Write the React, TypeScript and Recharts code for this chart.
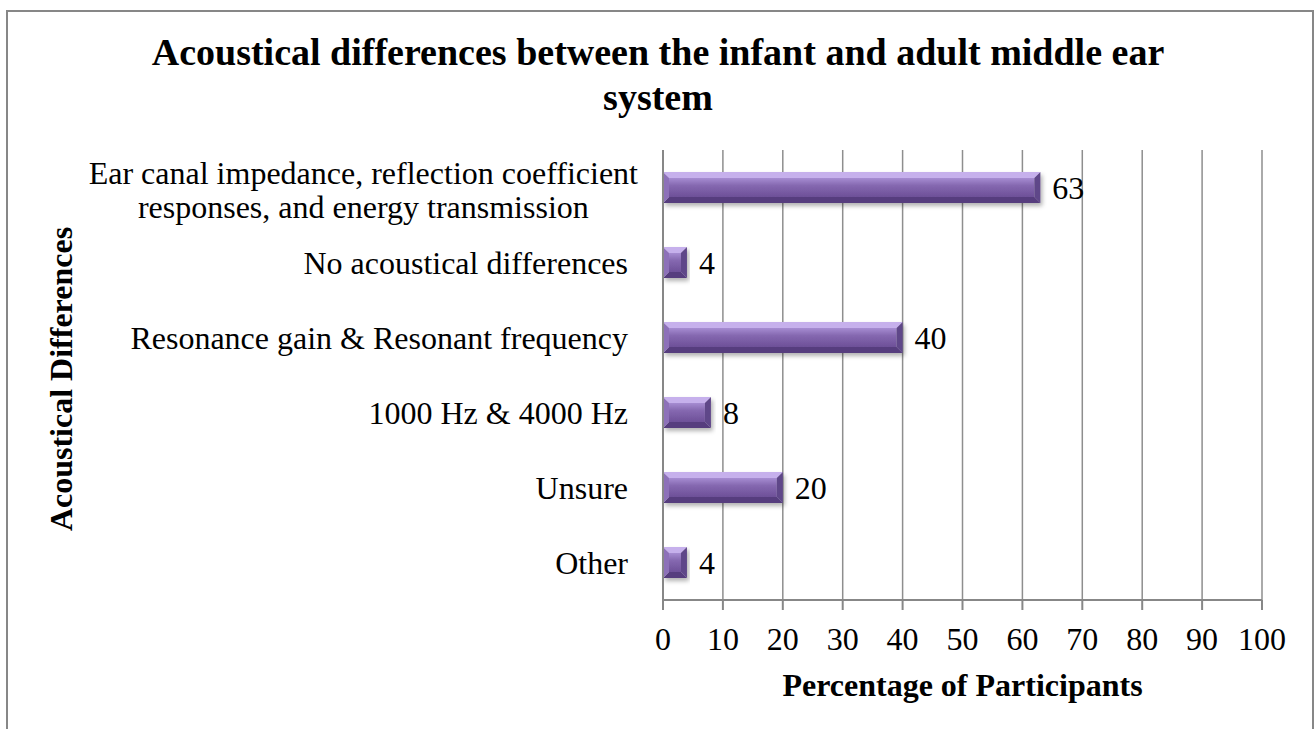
import React from "react"
import { Bar, BarChart, CartesianGrid, LabelList, XAxis, YAxis } from "recharts"

const FONT = '"Liberation Serif", "Times New Roman", serif'

const categories = [
  "Ear canal impedance, reflection coefficient\nresponses, and energy transmission",
  "No acoustical differences",
  "Resonance gain & Resonant frequency",
  "1000 Hz & 4000 Hz",
  "Unsure",
  "Other",
]
const percentages = [63, 4, 40, 8, 20, 4]
const xTicks = [0, 10, 20, 30, 40, 50, 60, 70, 80, 90, 100]

const data = categories.map((name, i) => ({ name, value: percentages[i] }))

let ctx: CanvasRenderingContext2D | null = null
function textWidth(s: string) {
  if (!ctx) ctx = document.createElement("canvas").getContext("2d")
  if (!ctx) return s.length * 14
  ctx.font = `32px ${FONT}`
  return ctx.measureText(s).width
}

function CategoryTick({ x, y, payload }: any) {
  const lines = String(payload.value).split("\n")
  if (lines.length === 1) {
    return (
      <text x={x} y={y} dy={11} textAnchor="end" fontSize={32} fontFamily={FONT} fill="#000">
        {lines[0]}
      </text>
    )
  }
  // wrapped label: lines centred on each other, block pushed a little right
  const w = Math.max(...lines.map(textWidth))
  const cx = x + 10 - w / 2
  const lh = 34
  const first = -((lines.length - 1) * lh) / 2 + 13
  return (
    <text x={cx} y={y} textAnchor="middle" fontSize={32} fontFamily={FONT} fill="#000">
      {lines.map((l, i) => (
        <tspan key={i} x={cx} dy={i === 0 ? first : lh}>
          {l}
        </tspan>
      ))}
    </text>
  )
}

function BevelBar({ x, y, width, height }: any) {
  if (!width || width <= 0) return null
  const b = Math.min(6, width / 2, height / 2)
  const r = x + width
  const btm = y + height
  return (
    <g filter="url(#barShadow)">
      <rect x={x + b} y={y + b} width={Math.max(0, width - 2 * b)} height={height - 2 * b} fill="url(#barBody)" />
      <polygon points={`${x},${y} ${r},${y} ${r - b},${y + b} ${x + b},${y + b}`} fill="#c6b0ec" />
      <polygon points={`${x},${btm} ${r},${btm} ${r - b},${btm - b} ${x + b},${btm - b}`} fill="#563d7e" />
      <polygon points={`${x},${y} ${x + b},${y + b} ${x + b},${btm - b} ${x},${btm}`} fill="#8d71b9" />
      <polygon points={`${r},${y} ${r - b},${y + b} ${r - b},${btm - b} ${r},${btm}`} fill="#5f4689" />
    </g>
  )
}

function XTitle({ viewBox }: any) {
  return (
    <text
      x={viewBox.x + viewBox.width / 2}
      y={viewBox.y + 96}
      textAnchor="middle"
      fontSize={32}
      fontWeight="bold"
      fontFamily={FONT}
      fill="#000"
    >
      Percentage of Participants
    </text>
  )
}

function YTitle({ viewBox }: any) {
  const cy = viewBox.y + viewBox.height / 2 + 4
  const tx = 72
  return (
    <text
      x={tx}
      y={cy}
      transform={`rotate(-90, ${tx}, ${cy})`}
      textAnchor="middle"
      fontSize={32}
      fontWeight="bold"
      fontFamily={FONT}
      fill="#000"
    >
      Acoustical Differences
    </text>
  )
}

export default function App() {
  return (
    <div
      style={{
        position: "absolute",
        left: 0,
        top: 0,
        width: 1315,
        height: 729,
        overflow: "hidden",
        background: "#fff",
        fontFamily: FONT,
      }}
    >
      <div
        style={{
          position: "absolute",
          left: 6,
          top: 10,
          width: 1308,
          height: 780,
          border: "2px solid #878787",
          boxSizing: "border-box",
        }}
      />
      <div
        style={{
          position: "absolute",
          left: 5,
          top: 30,
          width: 1306,
          textAlign: "center",
          fontSize: 38,
          lineHeight: "45px",
          fontWeight: "bold",
          color: "#000",
        }}
      >
        Acoustical differences between the infant and adult middle ear
        <br />
        system
      </div>
      <div style={{ position: "absolute", left: 0, top: 0 }}>
        <BarChart
          width={1315}
          height={729}
          data={data}
          layout="vertical"
          margin={{ top: 150, right: 53, bottom: 0, left: 0 }}
          barSize={31}
        >
          <defs>
            <linearGradient id="barBody" x1="0" y1="0" x2="0" y2="1">
              <stop offset="0%" stopColor="#a68cd2" />
              <stop offset="40%" stopColor="#8568b0" />
              <stop offset="100%" stopColor="#6d5098" />
            </linearGradient>
            <filter id="barShadow" x="-5%" y="-30%" width="115%" height="170%">
              <feDropShadow dx="2" dy="3" stdDeviation="2" floodColor="#000" floodOpacity="0.3" />
            </filter>
          </defs>
          <CartesianGrid horizontal={false} stroke="#8e8e8e" strokeWidth={1.5} />
          <XAxis
            type="number"
            domain={[0, 100]}
            ticks={xTicks}
            interval={0}
            height={129}
            tickSize={10}
            tickMargin={17}
            axisLine={{ stroke: "#878787", strokeWidth: 2 }}
            tickLine={{ stroke: "#878787", strokeWidth: 2 }}
            tick={{ fontSize: 32, fill: "#000", fontFamily: FONT }}
            label={{ content: XTitle }}
          />
          <YAxis
            type="category"
            dataKey="name"
            width={663}
            interval={0}
            tickSize={0}
            tickLine={false}
            tickMargin={35}
            axisLine={{ stroke: "#878787", strokeWidth: 2 }}
            tick={<CategoryTick />}
            label={{ content: YTitle }}
          />
          <Bar dataKey="value" shape={<BevelBar />} isAnimationActive={false}>
            <LabelList
              dataKey="value"
              position="right"
              offset={12}
              fill="#000"
              fontSize={32}
              fontFamily={FONT}
            />
          </Bar>
        </BarChart>
      </div>
    </div>
  )
}
